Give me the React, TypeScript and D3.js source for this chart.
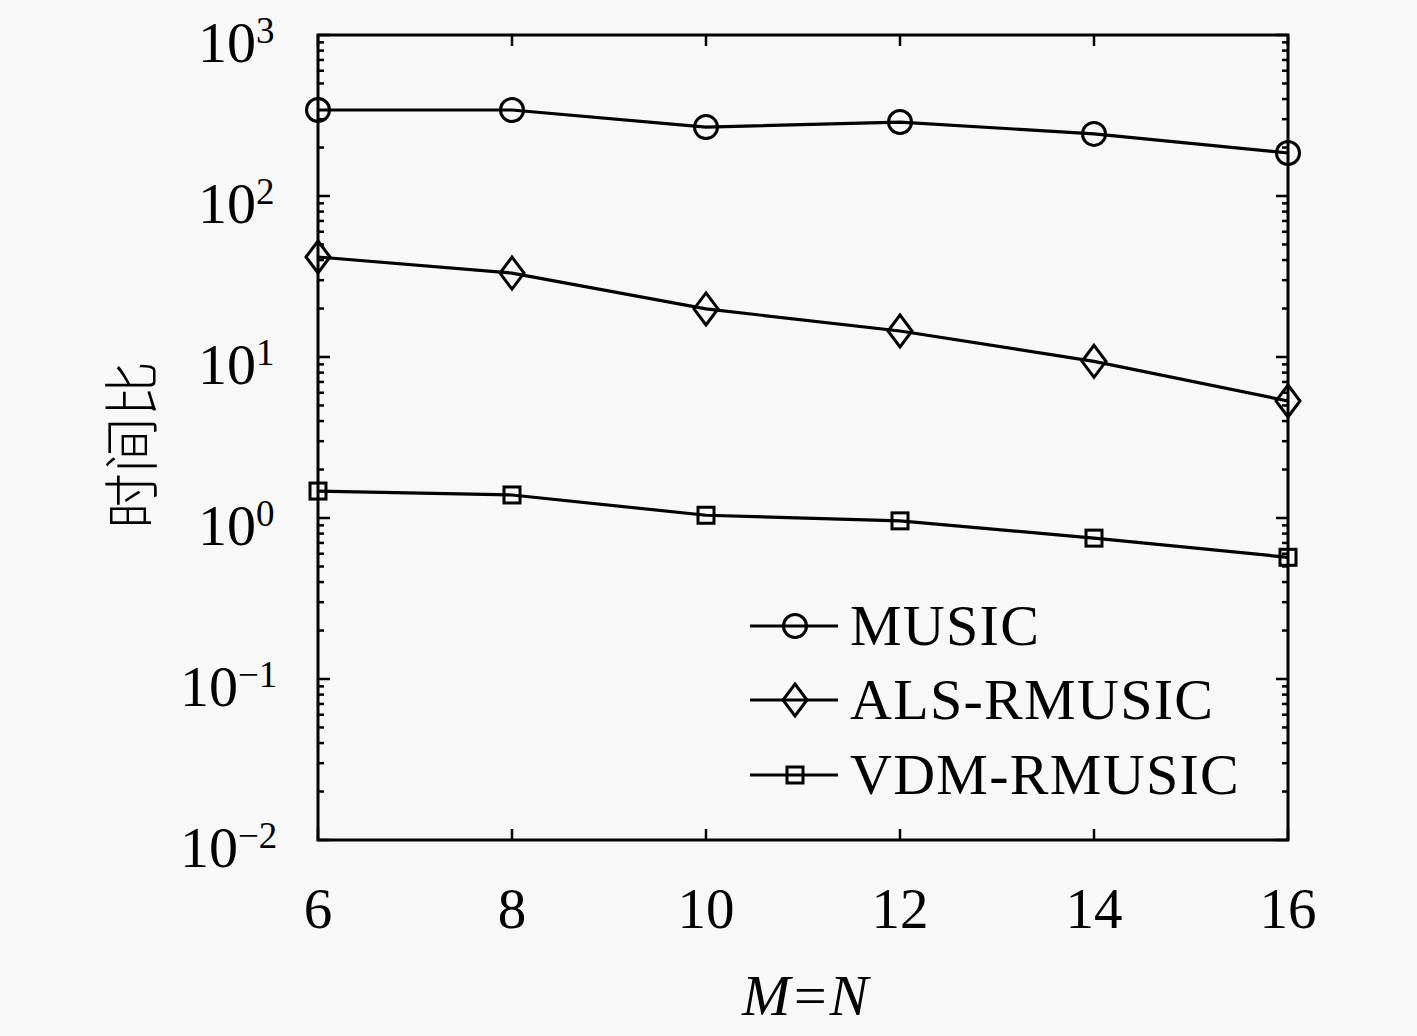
import * as d3 from 'd3';
import React from 'react';

const sizes = [6, 8, 10, 12, 14, 16];
const musicRatio = [342, 342, 268, 288, 243, 185];
const alsRatio = [41.8, 33.2, 19.9, 14.5, 9.4, 5.33];
const vdmRatio = [1.47, 1.39, 1.04, 0.96, 0.75, 0.57];
const seriesNames = ['MUSIC', 'ALS-RMUSIC', 'VDM-RMUSIC'];
const seriesMarkers = ['circle', 'diamond', 'square'];
const yDecades = [-2, -1, 0, 1, 2, 3];

const W = 1417;
const H = 1036;
const left = 318;
const right = 1288;
const top = 35;
const bottom = 840;
const font = '"Liberation Serif", "DejaVu Serif", serif';

function Marker({ kind, x, y }: { kind: string; x: number; y: number }) {
    if (kind === 'circle') {
        return <circle cx={x} cy={y} r={11.5} fill="none" stroke="#000" strokeWidth={3} />;
    }
    if (kind === 'diamond') {
        return (
            <path
                d={`M${x},${y - 16}L${x + 12},${y}L${x},${y + 16}L${x - 12},${y}Z`}
                fill="none"
                stroke="#000"
                strokeWidth={3}
            />
        );
    }
    return <rect x={x - 8} y={y - 8} width={16} height={16} fill="none" stroke="#000" strokeWidth={3} />;
}

const App: React.FC = () => {
    const x = d3.scaleLinear().domain([6, 16]).range([left, right]);
    const y = d3.scaleLog().domain([0.01, 1000]).range([bottom, top]);
    const line = d3
        .line<number>()
        .x((_, i) => x(sizes[i]))
        .y((d) => y(d));

    const allSeries = [musicRatio, alsRatio, vdmRatio];

    const minor: number[] = [];
    for (let e = -2; e < 3; e++) {
        for (let k = 2; k <= 9; k++) minor.push(k * Math.pow(10, e));
    }

    const legendY = [626, 700, 775];

    return (
        <svg width={W} height={H} style={{ position: 'absolute', left: 0, top: 0 }}>
            <rect width={W} height={H} fill="#f8f8f8" />
            {/* ticks */}
            <g stroke="#000" strokeWidth={2.5}>
                {sizes.map((s) => (
                    <g key={s}>
                        <line x1={x(s)} x2={x(s)} y1={bottom} y2={bottom - 11} />
                        <line x1={x(s)} x2={x(s)} y1={top} y2={top + 11} />
                    </g>
                ))}
                {yDecades.map((e) => (
                    <g key={e}>
                        <line x1={left} x2={left + 12} y1={y(Math.pow(10, e))} y2={y(Math.pow(10, e))} />
                        <line x1={right} x2={right - 12} y1={y(Math.pow(10, e))} y2={y(Math.pow(10, e))} />
                    </g>
                ))}
                {minor.map((v, i) => (
                    <g key={i}>
                        <line x1={left} x2={left + 6} y1={y(v)} y2={y(v)} />
                        <line x1={right} x2={right - 6} y1={y(v)} y2={y(v)} />
                    </g>
                ))}
            </g>
            <rect
                x={left}
                y={top}
                width={right - left}
                height={bottom - top}
                fill="none"
                stroke="#000"
                strokeWidth={3}
            />
            {/* series */}
            {allSeries.map((vals, si) => (
                <g key={si}>
                    <path d={line(vals) ?? ''} fill="none" stroke="#000" strokeWidth={3.2} />
                    {vals.map((v, i) => (
                        <Marker key={i} kind={seriesMarkers[si]} x={x(sizes[i])} y={y(v)} />
                    ))}
                </g>
            ))}
            {/* x tick labels */}
            {sizes.map((s) => (
                <text
                    key={s}
                    x={x(s)}
                    y={928}
                    fontFamily={font}
                    fontSize={57}
                    textAnchor="middle"
                    fill="#000"
                >
                    {s}
                </text>
            ))}
            {/* y tick labels */}
            {yDecades.map((e) => (
                <text
                    key={e}
                    x={e < 0 ? 180 : 198}
                    y={y(Math.pow(10, e)) + 27}
                    fontFamily={font}
                    fontSize={58}
                    fill="#000"
                >
                    10
                    <tspan dy={-19} fontSize={37}>
                        {e < 0 ? '\u2212' + Math.abs(e) : e}
                    </tspan>
                </text>
            ))}
            {/* axis labels */}
            <text
                x={805}
                y={1015}
                fontFamily={font}
                fontSize={58}
                fontStyle="italic"
                textAnchor="middle"
                fill="#000"
            >
                M=N
            </text>
            <text
                transform="translate(152,445) rotate(-90)"
                fontFamily='"Noto Sans CJK SC", sans-serif'
                fontSize={56}
                fontWeight={300}
                textAnchor="middle"
                fill="#000"
            >
                时间比
            </text>
            {/* legend */}
            {seriesNames.map((name, i) => (
                <g key={name}>
                    <line x1={750} x2={838} y1={legendY[i]} y2={legendY[i]} stroke="#000" strokeWidth={3} />
                    <Marker kind={seriesMarkers[i]} x={795} y={legendY[i]} />
                    <text
                        x={850}
                        y={legendY[i] + 19}
                        fontFamily={font}
                        fontSize={58}
                        letterSpacing={1.3}
                        fill="#000"
                    >
                        {name}
                    </text>
                </g>
            ))}
        </svg>
    );
};

export default App;
